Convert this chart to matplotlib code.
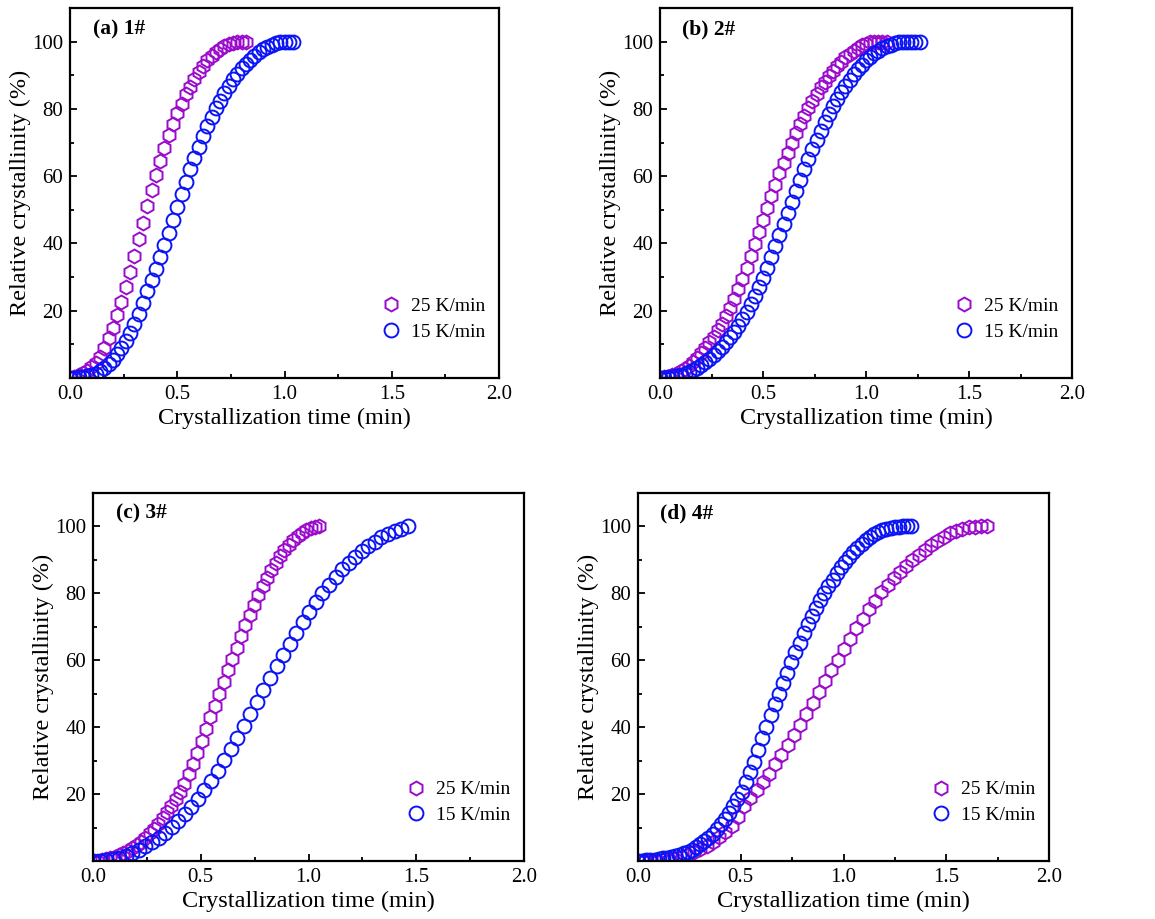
import numpy as np
import matplotlib
matplotlib.use("Agg")
import matplotlib.pyplot as plt
from matplotlib.ticker import MultipleLocator

plt.rcParams['font.family'] = ['Liberation Serif', 'DejaVu Serif']
plt.rcParams['mathtext.fontset'] = 'stix'

# ---------------- data ----------------
panel_titles = ["(a) 1#", "(b) 2#", "(c) 3#", "(d) 4#"]
series_labels = ["25 K/min", "15 K/min"]

# end times of each series (min); points are equally spaced from 0
a25_end = 0.82
a25 = [0, 0.3, 0.8, 1.4, 2.2, 3.2, 4.6, 6.3, 9.0, 12.0, 14.9, 18.7, 22.5, 27.0,
       31.4, 36.4, 41.3, 46.2, 51.0, 55.8, 60.3, 64.4, 68.4, 72.2, 75.6, 78.8,
       81.6, 84.3, 86.6, 89.0, 91.0, 92.7, 94.4, 95.7, 96.9, 97.9, 98.7, 99.3,
       99.7, 99.9, 100, 100]
a15_end = 1.04
a15 = [0, 0.1, 0.2, 0.3, 0.5, 0.8, 1.2, 2.0, 3.0, 4.1, 5.4, 7.0, 8.8, 10.9,
       13.3, 16.0, 19.0, 22.3, 25.8, 29.0, 32.5, 36.0, 39.5, 43.1, 47.0, 50.8,
       54.7, 58.4, 62.0, 65.5, 68.7, 71.8, 74.8, 77.7, 80.2, 82.5, 84.7, 86.8,
       88.8, 90.5, 92.1, 93.4, 94.6, 95.7, 96.8, 97.7, 98.4, 99.0, 99.5, 99.8,
       99.9, 100, 100]

b25_end = 1.10
b25 = [0, 0.2, 0.4, 0.8, 1.3, 2.0, 2.8, 3.7, 4.8, 6.0, 7.4, 8.9, 10.6, 12.3,
       14.2, 16.2, 18.5, 20.9, 23.5, 26.4, 29.5, 32.8, 36.2, 39.7, 43.3, 47.0,
       50.6, 54.1, 57.5, 60.9, 64.0, 67.0, 70.0, 72.7, 75.4, 77.9, 80.2, 82.4,
       84.4, 86.4, 88.1, 89.8, 91.3, 92.8, 94.0, 95.3, 96.3, 97.3, 98.2, 98.9,
       99.4, 99.8, 100, 100, 100, 100]
b15_end = 1.26
b15 = [0, 0.1, 0.2, 0.3, 0.5, 0.8, 1.2, 1.7, 2.3, 3.0, 3.8, 4.7, 5.7, 6.8,
       8.0, 9.3, 10.7, 12.2, 13.8, 15.6, 17.5, 19.6, 21.9, 24.4, 27.0, 29.8,
       32.8, 35.9, 39.1, 42.4, 45.7, 49.0, 52.4, 55.7, 58.9, 62.0, 65.0, 68.0,
       70.8, 73.5, 76.1, 78.5, 80.8, 83.0, 85.0, 86.9, 88.7, 90.3, 91.8, 93.2,
       94.4, 95.5, 96.5, 97.3, 98.0, 98.6, 99.1, 99.5, 99.8, 99.9, 100, 100,
       100, 100]

c25_end = 1.05
c25 = [0, 0.1, 0.3, 0.5, 0.8, 1.2, 1.7, 2.3, 3.0, 3.8, 4.7, 5.8, 7.0, 8.3,
       9.7, 11.2, 12.8, 14.6, 16.5, 18.5, 20.7, 23.1, 25.9, 29.0, 32.4, 35.9,
       39.4, 42.9, 46.3, 49.9, 53.4, 57.0, 60.3, 63.7, 67.2, 70.6, 73.6, 76.6,
       79.6, 82.2, 84.7, 87.0, 89.2, 91.1, 92.9, 94.5, 95.9, 97.1, 98.1, 98.9,
       99.5, 99.9, 100]
c15_end = 1.46
c15 = [0, 0.1, 0.3, 0.6, 1.0, 1.6, 2.4, 3.3, 4.4, 5.6, 7.0, 8.5, 10.2, 12.0,
       14.0, 16.2, 18.6, 21.2, 24.0, 27.0, 30.1, 33.4, 36.8, 40.3, 43.9, 47.5,
       51.1, 54.7, 58.2, 61.7, 65.0, 68.3, 71.4, 74.4, 77.3, 80.0, 82.6, 85.0,
       87.2, 89.2, 91.0, 92.7, 94.2, 95.5, 96.7, 97.7, 98.6, 99.3, 100]

d25_end = 1.70
d25 = [0, 0, 0.1, 0.1, 0.2, 0.4, 0.7, 1.2, 1.9, 2.7, 3.6, 4.6, 5.8, 7.2,
       8.8, 10.5, 13.3, 16.3, 18.7, 21.1, 23.5, 26.1, 28.9, 31.7, 34.7, 37.7,
       40.7, 43.9, 47.1, 50.4, 53.7, 57.0, 60.2, 63.4, 66.5, 69.5, 72.4, 75.2,
       77.8, 80.3, 82.5, 84.6, 86.5, 88.3, 90.0, 91.6, 93.1, 94.5, 95.8, 96.9,
       97.9, 98.7, 99.3, 99.7, 99.9, 100, 100]
d15_end = 1.33
d15 = [0, 0.1, 0.2, 0.3, 0.4, 0.6, 0.8, 1.0, 1.2, 1.5, 1.8, 2.3, 2.8, 3.4,
       4.2, 5.0, 5.9, 7.0, 8.2, 9.6, 11.1, 12.7, 14.4, 16.3, 18.4, 20.7, 23.5,
       26.5, 29.7, 33.2, 36.7, 40.2, 43.5, 46.8, 50.0, 53.2, 56.3, 59.4, 62.4,
       65.3, 68.1, 70.7, 73.2, 75.6, 77.9, 80.1, 82.1, 84.1, 86.0, 87.8, 89.5,
       91.0, 92.4, 93.7, 94.9, 95.9, 96.8, 97.6, 98.3, 98.9, 99.3, 99.6, 99.8,
       99.9, 100, 100, 100]

panels = [
    (a25, a25_end, a15, a15_end),
    (b25, b25_end, b15, b15_end),
    (c25, c25_end, c15, c15_end),
    (d25, d25_end, d15, d15_end),
]

xticks = [0.0, 0.5, 1.0, 1.5, 2.0]
yticks = [20, 40, 60, 80, 100]

# ---------------- styling ----------------
purple = '#9A0BCB'
blue = '#0A14F5'

W, H = 1155, 919
fig = plt.figure(figsize=(W / 100, H / 100), dpi=100)

# axes boxes in pixels: left, right, top, bottom
boxes = [(70, 499, 8, 378), (660, 1072, 8, 378),
         (93, 524, 493, 861), (638, 1049, 493, 861)]

for (l, r, t, b), title, (s25, e25, s15, e15) in zip(boxes, panel_titles, panels):
    ax = fig.add_axes([l / W, 1 - b / H, (r - l) / W, (b - t) / H])
    t25 = np.linspace(0, e25, len(s25))
    t15 = np.linspace(0, e15, len(s15))
    ax.plot(t25, s25, linestyle='none', marker='h', markersize=10,
            markerfacecolor='none', markeredgecolor=purple, markeredgewidth=1.4,
            label=series_labels[0])
    ax.plot(t15, s15, linestyle='none', marker='o', markersize=10,
            markerfacecolor='none', markeredgecolor=blue, markeredgewidth=1.4,
            label=series_labels[1])
    ax.set_xlim(0, 2.0)
    ax.set_ylim(0, 110)
    ax.set_xticks(xticks)
    ax.set_xticklabels([f"{v:.1f}" for v in xticks])
    ax.set_yticks(yticks)
    ax.xaxis.set_minor_locator(MultipleLocator(0.25))
    ax.yaxis.set_minor_locator(MultipleLocator(10))
    ax.tick_params(which='both', direction='in', top=False, right=False,
                   labelsize=15, width=1.3)
    ax.tick_params(which='major', length=5, pad=5)
    ax.tick_params(which='minor', length=3)
    for sp in ax.spines.values():
        sp.set_linewidth(1.6)
    ax.set_xlabel("Crystallization time (min)", fontsize=17.5, labelpad=3)
    ax.set_ylabel("Relative crystallinity (%)", fontsize=17.5, labelpad=1)
    ax.text(0.054, 0.943, title, transform=ax.transAxes, fontsize=15.5,
            fontweight='bold', va='center', ha='left')
    ax.legend(loc='lower right', bbox_to_anchor=(0.985, 0.08), frameon=False,
              fontsize=14, handlelength=1.0, handletextpad=0.5,
              labelspacing=0.4, borderaxespad=0.0)

fig.savefig("out.png", dpi=100)
